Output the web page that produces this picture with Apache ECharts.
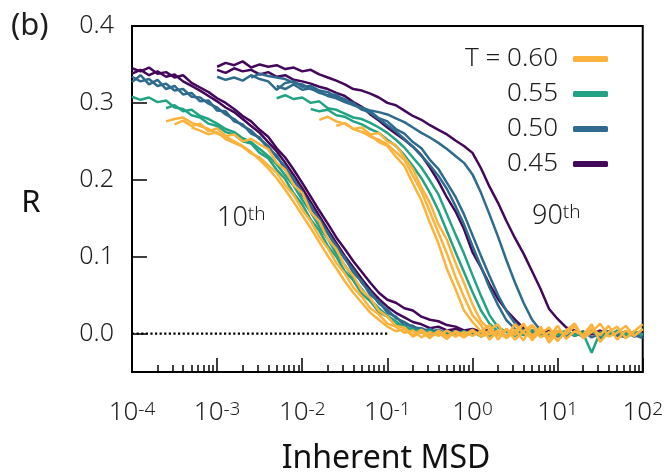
<!DOCTYPE html>
<html><head><meta charset="utf-8">
<script src="https://cdn.jsdelivr.net/npm/echarts@6/dist/echarts.min.js"></script>
<style>html,body{margin:0;padding:0;background:#fff}#c{width:666px;height:475px}</style>
</head><body><div id="c"></div>
<script>
// sample positions: log10(Inherent MSD)
const logGrid = [-4.0,-3.9,-3.8,-3.7,-3.6,-3.5,-3.4,-3.3,-3.2,-3.1,
  -3.0,-2.9,-2.8,-2.7,-2.6,-2.5,-2.4,-2.3,-2.2,-2.1,
  -2.0,-1.9,-1.8,-1.7,-1.6,-1.5,-1.4,-1.3,-1.2,-1.1,
  -1.0,-0.9,-0.8,-0.7,-0.6,-0.5,-0.4,-0.3,-0.2,-0.1,
  0.0,0.1,0.2,0.3,0.4,0.5,0.6,0.7,0.8,0.9,
  1.0,1.1,1.2,1.3,1.4,1.5,1.6,1.7,1.8,1.9,2.0];

const temps = ['T = 0.60', '0.55', '0.50', '0.45'];
const yTicks = [0, 0.1, 0.2, 0.3, 0.4];
const xMajor = [1e-4, 1e-3, 1e-2, 1e-1, 1, 10, 100];
const zeroRef = [[1e-4, 0], [1e-1, 0]];

// R values (x1000); each curve starts at the given log10 position
// ---- 10th percentile, T = 0.45
const p10aStart = -4.0;
const p10a = [345,341,346,338,340,333,336,326,320,314,306,300,292,283,276,265,256,241,229,213,196,178,160,143,125,110,94,80,66,53,44,40,33,30,22,18,16,11,9,4,6,2,5,1];
const p10bStart = -4.0;
const p10b = [338,343,336,341,334,337,328,322,316,309,302,294,288,279,270,261,249,237,222,206,189,171,153,135,118,101,86,71,57,45,35,27,21,15,12,7,9,4,6,1,4,-2,3,0];
// ---- 10th, T = 0.50
const b10aStart = -4.0;
const b10a = [334,328,331,322,325,316,318,308,307,299,294,285,279,270,264,253,244,229,217,199,184,164,149,130,115,97,83,66,54,39,31,20,15,8,7,2,5,-1,3,0,4,-3,2,-1];
const b10bStart = -4.0;
const b10b = [327,336,324,330,318,322,311,313,302,303,290,289,276,272,260,255,240,232,213,202,180,167,145,132,111,99,79,68,50,42,27,22,11,10,3,6,0,4,-2,3,-1,3,-2,2];
// ---- 10th, T = 0.55
const t10aStart = -4.0;
const t10a = [308,304,307,301,303,294,292,284,281,273,270,262,259,250,247,235,228,213,201,182,168,148,134,114,100,81,69,52,42,28,22,12,10,3,5,-2,3,-3,2,-1,3,-4,1,-2];
const t10bStart = -3.6;
const t10b = [293,297,289,291,283,279,273,266,262,254,249,240,231,220,206,192,174,158,139,123,104,89,72,58,44,33,23,16,8,6,1,4,-2,2,-1,3,-2,2,-3,1];
// ---- 10th, T = 0.60
const y10aStart = -3.6;
const y10a = [276,279,281,274,270,266,260,256,250,244,236,226,215,202,187,171,154,137,119,101,85,68,53,40,27,18,9,3,6,-4,2,-6,4,-3,1,-5,3,-2,4,-3,6,-8,3,11,-5,2,-9];
const y10bStart = -3.5;
const y10b = [272,277,270,273,263,267,257,259,250,253,246,240,222,213,193,183,158,146,123,110,88,75,56,46,30,22,10,8,-2,5,-3,1,-7,3,-2,5,-4,0,2,-6,4,12,-3,7,-10,5];
const y10cStart = -3.3;
const y10c = [268,264,259,262,253,248,243,234,229,219,209,193,180,161,146,126,111,92,78,60,48,33,25,13,9,1,4,-5,2,-3,4,-4,2,-3,3,-1,4];

// ---- 90th percentile, T = 0.45
const p90aStart = -3.0;
const p90a = [347,352,349,354,346,350,347,349,344,346,341,343,337,333,329,324,318,316,312,307,300,297,290,283,278,271,265,259,251,244,235,215,191,170,146,124,104,81,58,32,19,8,4,-2,5,-1,3,-3,2,-2,1];
const p90bStart = -3.0;
const p90b = [343,339,345,341,343,337,340,334,336,330,328,325,321,318,313,309,301,295,285,277,268,260,252,243,232,216,198,177,159,136,106,86,64,45,30,18,7,3,-2,4,-1,3,-3,2,-1,4,-2,1,-3,2,0];
// ---- 90th, T = 0.50
const b90aStart = -3.0;
const b90a = [334,330,333,329,336,331,328,317,326,328,321,322,316,314,308,305,298,292,287,279,271,263,253,243,231,219,205,188,166,142,114,87,60,37,17,6,-2,3,-3,1,-4,2,-2,3,-5,0,2,-3,1,-2,-6];
const b90cStart = -2.3;
const b90c = [322,318,324,317,319,313,310,311,302,300,291,289,280,276,266,260,249,241,226,214,196,178,155,128,101,75,50,29,13,4,-3,2,-1,3,-2,1,-4,2,-1,3,-2,-5,1,-3];
const b90bStart = -2.6;
const b90b = [333,338,335,333,331,326,324,318,315,309,306,301,297,294,290,288,285,280,275,268,261,255,248,240,231,222,207,183,155,126,95,66,40,18,4,-2,3,-3,2,-1,4,-6,1,-2,3,-4,-1];
// ---- 90th, T = 0.55
const t90aStart = -2.3;
const t90a = [306,310,305,307,300,302,293,291,286,281,279,274,268,261,252,242,229,216,199,181,155,129,104,76,49,24,8,2,-3,4,-1,2,-4,1,3,-2,0,-25,2,-3,4,-1,2,-2];
const t90bStart = -1.9;
const t90b = [292,289,291,284,282,276,272,266,261,252,244,232,218,202,183,160,133,106,80,54,30,13,3,-3,2,-2,5,-3,1,-2,4,-3,1,3,-4,0,2,-3,3,-1];
// ---- 90th, T = 0.60
const y90aStart = -1.8;
const y90a = [278,282,276,273,266,262,258,249,244,230,218,195,173,144,117,84,58,30,15,3,11,-8,6,-2,13,-9,4,-5,10,-7,3,-2,12,-11,2,9,-6,3,12];
const y90bStart = -1.6;
const y90b = [270,274,266,268,259,261,250,245,229,214,190,170,142,122,92,66,38,16,5,12,-6,5,-9,11,0,8,-10,4,13,-5,7,-2,10,-8,4,-3,6];
const y90cStart = -1.3;
const y90c = [263,256,252,246,236,226,205,185,158,131,104,74,48,24,11,-8,4,-4,12,1,-6,9,-12,3,-1,10,-6,2,13,-4,1,10,-3,6];

const curves = [
  [3, p10aStart, p10a], [3, p10bStart, p10b], [3, p90aStart, p90a], [3, p90bStart, p90b],
  [2, b10aStart, b10a], [2, b10bStart, b10b], [2, b90aStart, b90a], [2, b90cStart, b90c], [2, b90bStart, b90b],
  [1, t10aStart, t10a], [1, t10bStart, t10b], [1, t90aStart, t90a], [1, t90bStart, t90b],
  [0, y10aStart, y10a], [0, y10bStart, y10b], [0, y10cStart, y10c], [0, y90aStart, y90a], [0, y90bStart, y90b], [0, y90cStart, y90c]
];

const palette = ['#fbb33d', '#22a384', '#2f6b8e', '#44085a'];
const FONT = '"Noto Sans", "Open Sans", sans-serif';
const TXT = '#1e1e1e';

function toData(start, vals) {
  const i0 = logGrid.findIndex(v => Math.abs(v - start) < 1e-6);
  return vals.map((v, k) => [Math.pow(10, logGrid[i0 + k]), v / 1000]);
}

const series = [{
  type: 'line', name: 'zero', data: zeroRef, symbol: 'none', silent: true, z: 1,
  lineStyle: { color: '#000', width: 2.2, type: [2.2, 2.4] }
}];
curves.forEach(([ti, st, vals]) => {
  series.push({
    type: 'line', name: temps[ti], data: toData(st, vals), symbol: 'none', showSymbol: false,
    lineStyle: { color: palette[ti], width: 2.5 }, itemStyle: { color: palette[ti] }, z: 2
  });
});

const xMinor = [];
[1e-4, 1e-3, 1e-2, 1e-1, 1, 10].forEach(d => { [2,3,4,5,6,7,8,9].forEach(m => xMinor.push(d * m)); });

const chart = echarts.init(document.getElementById('c'), null, { renderer: 'canvas' });
chart.setOption({
  animation: false,
  backgroundColor: '#fff',
  textStyle: { fontFamily: FONT },
  grid: { left: 132, right: 23, top: 26, bottom: 103, show: true, borderColor: '#000', borderWidth: 2, containLabel: false },
  xAxis: [{
    type: 'log', logBase: 10, min: 1e-4, max: 100, position: 'bottom',
    axisLine: { onZero: false, lineStyle: { color: '#000', width: 2 } },
    axisTick: { inside: true, length: 14, customValues: xMajor, lineStyle: { color: '#000', width: 1.5 } },
    axisLabel: {
      customValues: xMajor, margin: 28, color: TXT,
      formatter: v => '{b|10}{s|' + Math.round(Math.log10(v)) + '}',
      rich: {
        b: { fontSize: 26, fontFamily: FONT, fontWeight: 300, color: TXT },
        s: { fontSize: 19, fontFamily: FONT, fontWeight: 300, color: TXT, verticalAlign: 'top' }
      }
    },
    splitLine: { show: false }, minorSplitLine: { show: false }
  }, {
    type: 'log', logBase: 10, min: 1e-4, max: 100, position: 'bottom', gridIndex: 0,
    axisLine: { show: false, onZero: false },
    axisTick: { inside: true, length: 7, customValues: xMinor, lineStyle: { color: '#000', width: 1.5 } },
    axisLabel: { show: false }, splitLine: { show: false }
  }],
  yAxis: {
    type: 'value', min: -0.05, max: 0.4,
    axisLine: { onZero: false, lineStyle: { color: '#000', width: 2 } },
    axisTick: { inside: true, length: 15, customValues: yTicks, lineStyle: { color: '#000', width: 1.5 } },
    axisLabel: { customValues: yTicks, margin: 18, fontSize: 25, fontWeight: 300, color: TXT, fontFamily: FONT, formatter: v => v.toFixed(1) },
    splitLine: { show: false }
  },
  legend: {
    data: temps, orient: 'vertical', align: 'right', right: 53, top: 41, itemGap: 9,
    icon: 'roundRect', itemWidth: 35, itemHeight: 6,
    textStyle: { fontSize: 26, fontWeight: 300, color: TXT, fontFamily: FONT, padding: [0, 10, 0, 0] },
    selectedMode: false
  },
  graphic: [
    { type: 'text', left: 11, top: 11, style: { text: '(b)', font: '31px ' + FONT, fill: TXT } },
    { type: 'text', x: 31, y: 203, style: { text: 'R', font: '31px ' + FONT, fill: '#111', textAlign: 'center', textVerticalAlign: 'middle' } },
    { type: 'text', x: 386, y: 459, style: { text: 'Inherent MSD', font: '32px ' + FONT, fill: '#111', textAlign: 'center', textVerticalAlign: 'middle' } },
    { type: 'text', x: 217, y: 205, style: { text: '{a|10}{b|th}', rich: { a: { fontSize: 27, fontFamily: FONT, fontWeight: 300, fill: TXT }, b: { fontSize: 19, fontFamily: FONT, fontWeight: 300, fill: TXT, verticalAlign: 'top' } } } },
    { type: 'text', x: 532, y: 203, style: { text: '{a|90}{b|th}', rich: { a: { fontSize: 27, fontFamily: FONT, fontWeight: 300, fill: TXT }, b: { fontSize: 19, fontFamily: FONT, fontWeight: 300, fill: TXT, verticalAlign: 'top' } } } }
  ],
  series: series
});
</script></body></html>
